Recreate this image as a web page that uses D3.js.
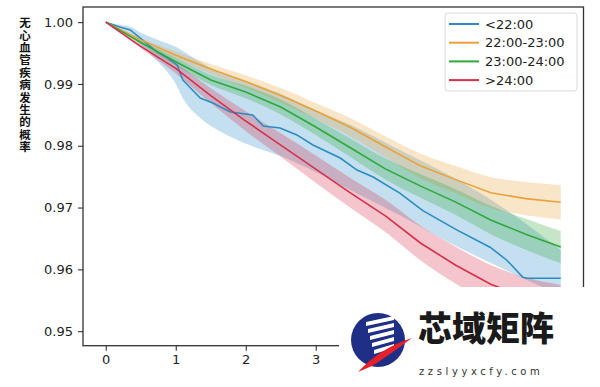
<!DOCTYPE html>
<html>
<head>
<meta charset="utf-8">
<script src="https://cdn.jsdelivr.net/npm/d3@7"></script>
<style>
  body { margin: 0; background: #fff; }
  svg { display: block; }
</style>
</head>
<body>
<svg id="chart" width="600" height="387"></svg>
<script>
// series names and colours
const groups = ['<22:00', '22:00-23:00', '23:00-24:00', '>24:00'];
const colors = ['#2b8cc4', '#e9a23b', '#2fa83a', '#d6304a'];

const xTicks = [0, 1, 2, 3, 4, 5, 6];
const yTicks = [0.95, 0.96, 0.97, 0.98, 0.99, 1.0];
const yLabel = '无心血管疾病发生的概率';

// common grid (years) for orange / green / red
const years = [0, 0.5, 1, 1.5, 2, 2.5, 3, 3.5, 4, 4.5, 5, 5.5, 6, 6.5];

const orange = [1.0, 0.99713, 0.99465, 0.99243, 0.9904, 0.98814, 0.98562, 0.98295, 0.97979, 0.97671, 0.97452, 0.97241, 0.97144, 0.97087];
const orangeCI = [0, 0.0003, 0.0006, 0.0008, 0.001, 0.0012, 0.0013, 0.0015, 0.0017, 0.002, 0.0022, 0.0025, 0.0027, 0.0028];

const green = [1.0, 0.99671, 0.9936, 0.99065, 0.9887, 0.98627, 0.98303, 0.97963, 0.97622, 0.97347, 0.97088, 0.968, 0.96568, 0.9636];
const greenCI = [0, 0.0003, 0.0006, 0.0008, 0.001, 0.0012, 0.0013, 0.0015, 0.0017, 0.0019, 0.0021, 0.0023, 0.0025, 0.0026];

const red = [1.0, 0.99608, 0.99251, 0.98812, 0.984, 0.98011, 0.97622, 0.97233, 0.96861, 0.96423, 0.96067, 0.95759, 0.95548, 0.95419];
const redCI = [0, 0.0003, 0.0008, 0.0012, 0.0016, 0.0019, 0.0022, 0.0024, 0.0026, 0.0028, 0.003, 0.0031, 0.0032, 0.0033];

// blue group is jagged, own grid
const blueT = [0, 0.2, 0.35, 0.49, 0.73, 0.88, 1.02, 1.1, 1.35, 1.53, 1.78, 2.1, 2.25, 2.49, 2.73, 2.96, 3.35, 3.59, 3.82, 4.2, 4.53, 5.02, 5.49, 5.73, 5.96, 6.02, 6.5];
const blue = [1.0, 0.9992, 0.99875, 0.99746, 0.99519, 0.99421, 0.99308, 0.99065, 0.98773, 0.98692, 0.98546, 0.98498, 0.98319, 0.98287, 0.98175, 0.98012, 0.97801, 0.97607, 0.97494, 0.97234, 0.9695, 0.96635, 0.96359, 0.96148, 0.95873, 0.95856, 0.95856];
const blueBandT = [0, 0.2, 0.35, 0.5, 0.75, 1.0, 1.1, 1.35, 1.65, 2.05, 2.5, 3.0, 3.5, 4.2, 4.9, 5.6, 6.5];
const blueLo = [1.0, 0.99875, 0.99794, 0.99632, 0.99356, 0.99, 0.98773, 0.98449, 0.98222, 0.98011, 0.97833, 0.97574, 0.97282, 0.96877, 0.96439, 0.9605, 0.9558];
const blueHi = [1.0, 0.99956, 0.99924, 0.99827, 0.99713, 0.996, 0.99535, 0.99356, 0.99178, 0.99032, 0.98838, 0.98579, 0.98335, 0.9793, 0.97525, 0.97055, 0.9631];

const svg = d3.select('#chart');

const x = d3.scaleLinear().domain([-0.325, 6.825]).range([83, 583.5]);
const y = d3.scaleLinear().domain([0.94765, 1.00245]).range([345.7, 7]);

// build band + line data
const bands = [
	{ c: colors[0], pts: blueBandT.map((t, i) => ({ t, lo: blueLo[i], hi: blueHi[i] })) },
	{ c: colors[1], pts: years.map((t, i) => ({ t, lo: orange[i] - orangeCI[i], hi: orange[i] + orangeCI[i] })) },
	{ c: colors[2], pts: years.map((t, i) => ({ t, lo: green[i] - greenCI[i], hi: green[i] + greenCI[i] })) },
	{ c: colors[3], pts: years.map((t, i) => ({ t, lo: red[i] - redCI[i], hi: red[i] + redCI[i] })) },
];
const lines = [
	{ c: colors[0], pts: blueT.map((t, i) => ({ t, v: blue[i] })) },
	{ c: colors[1], pts: years.map((t, i) => ({ t, v: orange[i] })) },
	{ c: colors[2], pts: years.map((t, i) => ({ t, v: green[i] })) },
	{ c: colors[3], pts: years.map((t, i) => ({ t, v: red[i] })) },
];

const area = d3.area()
	.x((d) => x(d.t))
	.y0((d) => y(d.lo))
	.y1((d) => y(Math.min(d.hi, 1)))
	.curve(d3.curveMonotoneX);
const line = d3.line()
	.x((d) => x(d.t))
	.y((d) => y(d.v));

svg.append('g')
	.selectAll('path')
	.data(bands)
	.join('path')
	.attr('d', (d) => area(d.pts))
	.attr('fill', (d) => d.c)
	.attr('fill-opacity', 0.28);

svg.append('g')
	.selectAll('path')
	.data(lines)
	.join('path')
	.attr('d', (d) => line(d.pts))
	.attr('fill', 'none')
	.attr('stroke', (d) => d.c)
	.attr('stroke-width', 1.6);

// axes
const yAxis = svg.append('g')
	.attr('transform', 'translate(83,0)')
	.call(d3.axisLeft(y).tickValues(yTicks).tickFormat(d3.format('.2f')).tickSize(5).tickPadding(5));
const xAxis = svg.append('g')
	.attr('transform', 'translate(0,345.7)')
	.call(d3.axisBottom(x).tickValues(xTicks).tickFormat(d3.format('d')).tickSize(5).tickPadding(4));
[yAxis, xAxis].forEach((g) => {
	g.select('.domain').remove();
	g.selectAll('.tick line').attr('stroke', '#333').attr('stroke-width', 1.1);
	g.selectAll('.tick text')
		.attr('fill', '#222')
		.style('font', '13px "DejaVu Sans", sans-serif');
});

// frame
svg.append('rect')
	.attr('x', 83).attr('y', 7)
	.attr('width', 500.5).attr('height', 338.7)
	.attr('fill', 'none')
	.attr('stroke', '#333')
	.attr('stroke-width', 1.3);

// y label, vertical upright characters
svg.append('text')
	.attr('x', 25)
	.attr('y', 17)
	.style('writing-mode', 'vertical-rl')
	.style('text-orientation', 'upright')
	.attr('letter-spacing', 0.9)
	.attr('fill', '#111')
	.style('font', '600 11.5px "Noto Sans CJK SC", sans-serif')
	.text(yLabel);

// legend
const lg = svg.append('g');
lg.append('rect')
	.attr('x', 445).attr('y', 13)
	.attr('width', 132).attr('height', 78)
	.attr('rx', 3)
	.attr('fill', '#fff')
	.attr('fill-opacity', 0.85)
	.attr('stroke', '#d8d8d8');
const rows = lg.selectAll('g.row')
	.data(groups)
	.join('g')
	.attr('class', 'row')
	.attr('transform', (d, i) => `translate(0,${24 + i * 18.7})`);
rows.append('line')
	.attr('x1', 449).attr('x2', 479)
	.attr('stroke', (d, i) => colors[i])
	.attr('stroke-width', 2);
rows.append('text')
	.attr('x', 485)
	.attr('dominant-baseline', 'central')
	.attr('fill', '#222')
	.style('font', '13px "DejaVu Sans", sans-serif')
	.text((d) => d);

// watermark box covering lower right
const wm = svg.append('g');
wm.append('rect')
	.attr('x', 339).attr('y', 287)
	.attr('width', 261).attr('height', 100)
	.attr('fill', '#fff');
wm.append('circle')
	.attr('cx', 378).attr('cy', 340).attr('r', 27)
	.attr('fill', '#1f2f86');
// white stripes + red swoosh of the logo
[0, 1, 2, 3, 4].forEach((k) => {
	wm.append('path')
		.attr('d', `M${366 + k * 2},${322 + k * 7} L${394},${316 + k * 7} L${394},${320 + k * 7} L${366 + k * 2},${326 + k * 7} Z`)
		.attr('fill', '#fff');
});
wm.append('path')
	.attr('d', 'M358,372 Q380,348 412,338 Q388,356 372,366 Z')
	.attr('fill', '#e5202a');
wm.append('text')
	.attr('x', 418).attr('y', 341)
	.attr('fill', '#1a1a1a')
	.style('font', '900 34px "Noto Sans CJK SC", sans-serif')
	.text('芯域矩阵');
wm.append('text')
	.attr('x', 419).attr('y', 375)
	.attr('fill', '#333')
	.attr('letter-spacing', 3.6)
	.style('font', '10px "DejaVu Sans", sans-serif')
	.text('zzslyyxcfy.com');
</script>
</body>
</html>
